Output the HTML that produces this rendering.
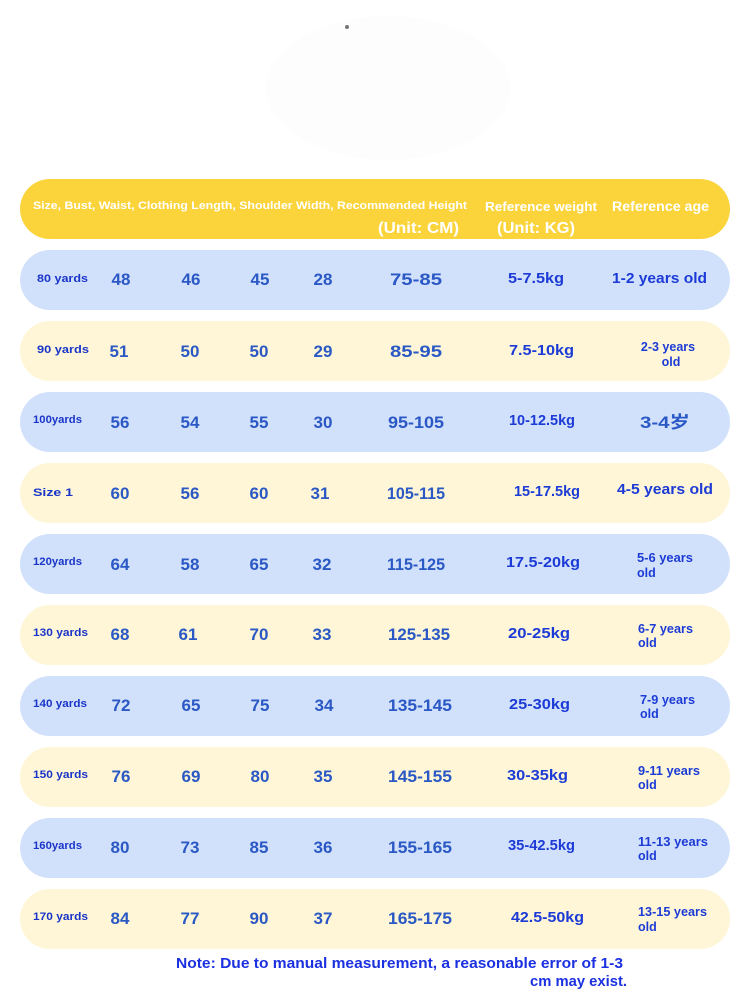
<!DOCTYPE html>
<html>
<head>
<meta charset="utf-8">
<style>
html,body{margin:0;padding:0;background:#fff;}
svg{display:block;}
text{font-family:"Liberation Sans","Noto Sans CJK SC",sans-serif;font-weight:bold;}
.lab{fill:#1a35c9;font-size:11px;}
.num{fill:#2a58c4;font-size:17px;}
.kg{fill:#1c3bd6;font-size:15px;}
.age{fill:#1c3bd6;font-size:15px;}
.age2{fill:#1c3bd6;font-size:12.5px;}
.hd{fill:#fff;}
</style>
</head>
<body>
<svg width="750" height="1000" viewBox="0 0 750 1000" xmlns="http://www.w3.org/2000/svg">
<rect width="750" height="1000" fill="#ffffff"/>
<ellipse cx="388" cy="88" rx="122" ry="72" fill="#fdfdfd"/>
<circle cx="347" cy="27" r="2" fill="#777"/>

<!-- header -->
<rect x="20" y="179" width="710" height="60" rx="30" fill="#fbd43c"/>
<text class="hd" x="33" y="209" font-size="11" textLength="434" lengthAdjust="spacingAndGlyphs">Size, Bust, Waist, Clothing Length, Shoulder Width, Recommended Height</text>
<text class="hd" x="485" y="211" font-size="13" textLength="112" lengthAdjust="spacingAndGlyphs">Reference weight</text>
<text class="hd" x="612" y="211" font-size="14" textLength="97" lengthAdjust="spacingAndGlyphs">Reference age</text>
<text class="hd" x="378" y="233" font-size="16" textLength="81" lengthAdjust="spacingAndGlyphs">(Unit: CM)</text>
<text class="hd" x="497" y="233" font-size="16" textLength="78" lengthAdjust="spacingAndGlyphs">(Unit: KG)</text>

<!-- rows -->
<rect x="20" y="250" width="710" height="60" rx="30" fill="#d2e1fb"/>
<rect x="20" y="321" width="710" height="60" rx="30" fill="#fef6d6"/>
<rect x="20" y="392" width="710" height="60" rx="30" fill="#d2e1fb"/>
<rect x="20" y="463" width="710" height="60" rx="30" fill="#fef6d6"/>
<rect x="20" y="534" width="710" height="60" rx="30" fill="#d2e1fb"/>
<rect x="20" y="605" width="710" height="60" rx="30" fill="#fef6d6"/>
<rect x="20" y="676" width="710" height="60" rx="30" fill="#d2e1fb"/>
<rect x="20" y="747" width="710" height="60" rx="30" fill="#fef6d6"/>
<rect x="20" y="818" width="710" height="60" rx="30" fill="#d2e1fb"/>
<rect x="20" y="889" width="710" height="60" rx="30" fill="#fef6d6"/>

<!-- labels -->
<text class="lab" x="37" y="282" textLength="51" lengthAdjust="spacingAndGlyphs">80 yards</text>
<text class="lab" x="37" y="353" textLength="52" lengthAdjust="spacingAndGlyphs">90 yards</text>
<text class="lab" x="33" y="423" textLength="49" lengthAdjust="spacingAndGlyphs">100yards</text>
<text class="lab" x="33" y="496" font-size="14" textLength="40" lengthAdjust="spacingAndGlyphs">Size 1</text>
<text class="lab" x="33" y="565" textLength="49" lengthAdjust="spacingAndGlyphs">120yards</text>
<text class="lab" x="33" y="636" textLength="55" lengthAdjust="spacingAndGlyphs">130 yards</text>
<text class="lab" x="33" y="707" textLength="54" lengthAdjust="spacingAndGlyphs">140 yards</text>
<text class="lab" x="33" y="778" textLength="55" lengthAdjust="spacingAndGlyphs">150 yards</text>
<text class="lab" x="33" y="849" textLength="49" lengthAdjust="spacingAndGlyphs">160yards</text>
<text class="lab" x="33" y="920" textLength="55" lengthAdjust="spacingAndGlyphs">170 yards</text>

<!-- numbers -->
<g class="num" text-anchor="middle">
<text x="121" y="285">48</text><text x="191" y="285">46</text><text x="260" y="285">45</text><text x="323" y="285">28</text><text x="416" y="285" textLength="52" lengthAdjust="spacingAndGlyphs">75-85</text>
<text x="119" y="357">51</text><text x="190" y="357">50</text><text x="259" y="357">50</text><text x="323" y="357">29</text><text x="416" y="357" textLength="52" lengthAdjust="spacingAndGlyphs">85-95</text>
<text x="120" y="428">56</text><text x="190" y="428">54</text><text x="259" y="428">55</text><text x="323" y="428">30</text><text x="416" y="428" textLength="56" lengthAdjust="spacingAndGlyphs">95-105</text>
<text x="120" y="499">60</text><text x="190" y="499">56</text><text x="259" y="499">60</text><text x="320" y="499">31</text><text x="416" y="499" textLength="58" lengthAdjust="spacingAndGlyphs">105-115</text>
<text x="120" y="570">64</text><text x="190" y="570">58</text><text x="259" y="570">65</text><text x="322" y="570">32</text><text x="416" y="570" textLength="58" lengthAdjust="spacingAndGlyphs">115-125</text>
<text x="120" y="640">68</text><text x="188" y="640">61</text><text x="259" y="640">70</text><text x="322" y="640">33</text><text x="419" y="640" textLength="62" lengthAdjust="spacingAndGlyphs">125-135</text>
<text x="121" y="711">72</text><text x="191" y="711">65</text><text x="260" y="711">75</text><text x="324" y="711">34</text><text x="420" y="711" textLength="64" lengthAdjust="spacingAndGlyphs">135-145</text>
<text x="121" y="782">76</text><text x="191" y="782">69</text><text x="260" y="782">80</text><text x="323" y="782">35</text><text x="420" y="782" textLength="64" lengthAdjust="spacingAndGlyphs">145-155</text>
<text x="120" y="853">80</text><text x="190" y="853">73</text><text x="259" y="853">85</text><text x="323" y="853">36</text><text x="420" y="853" textLength="64" lengthAdjust="spacingAndGlyphs">155-165</text>
<text x="120" y="924">84</text><text x="190" y="924">77</text><text x="259" y="924">90</text><text x="323" y="924">37</text><text x="420" y="924" textLength="64" lengthAdjust="spacingAndGlyphs">165-175</text>
</g>

<!-- weights -->
<text class="kg" x="508" y="283" textLength="56" lengthAdjust="spacingAndGlyphs">5-7.5kg</text>
<text class="kg" x="509" y="355" textLength="65" lengthAdjust="spacingAndGlyphs">7.5-10kg</text>
<text class="kg" x="509" y="425" font-size="14" textLength="66" lengthAdjust="spacingAndGlyphs">10-12.5kg</text>
<text class="kg" x="514" y="496" font-size="14" textLength="66" lengthAdjust="spacingAndGlyphs">15-17.5kg</text>
<text class="kg" x="506" y="567" textLength="74" lengthAdjust="spacingAndGlyphs">17.5-20kg</text>
<text class="kg" x="508" y="638" textLength="62" lengthAdjust="spacingAndGlyphs">20-25kg</text>
<text class="kg" x="509" y="709" textLength="61" lengthAdjust="spacingAndGlyphs">25-30kg</text>
<text class="kg" x="507" y="780" textLength="61" lengthAdjust="spacingAndGlyphs">30-35kg</text>
<text class="kg" x="508" y="850" font-size="14" textLength="67" lengthAdjust="spacingAndGlyphs">35-42.5kg</text>
<text class="kg" x="511" y="922" font-size="16" textLength="73" lengthAdjust="spacingAndGlyphs">42.5-50kg</text>

<!-- ages -->
<text class="age" x="612" y="283" textLength="95" lengthAdjust="spacingAndGlyphs">1-2 years old</text>
<text class="age2" x="668" y="351" text-anchor="middle">2-3 years</text>
<text class="age2" x="671" y="366" text-anchor="middle">old</text>
<text class="num" x="640" y="428" textLength="50" lengthAdjust="spacingAndGlyphs">3-4岁</text>
<text class="age" x="617" y="494" textLength="96" lengthAdjust="spacingAndGlyphs">4-5 years old</text>
<text class="age2" x="637" y="562" textLength="56" lengthAdjust="spacingAndGlyphs">5-6 years</text>
<text class="age2" x="637" y="577">old</text>
<text class="age2" x="638" y="633" textLength="55" lengthAdjust="spacingAndGlyphs">6-7 years</text>
<text class="age2" x="638" y="647">old</text>
<text class="age2" x="640" y="704" textLength="55" lengthAdjust="spacingAndGlyphs">7-9 years</text>
<text class="age2" x="640" y="718">old</text>
<text class="age2" x="638" y="775" textLength="62" lengthAdjust="spacingAndGlyphs">9-11 years</text>
<text class="age2" x="638" y="789">old</text>
<text class="age2" x="638" y="846" textLength="70" lengthAdjust="spacingAndGlyphs">11-13 years</text>
<text class="age2" x="638" y="860">old</text>
<text class="age2" x="638" y="916" textLength="69" lengthAdjust="spacingAndGlyphs">13-15 years</text>
<text class="age2" x="638" y="931">old</text>

<!-- note -->
<text x="176" y="968" font-size="15" fill="#1b30e0" textLength="447" lengthAdjust="spacingAndGlyphs">Note: Due to manual measurement, a reasonable error of 1-3</text>
<text x="530" y="986" font-size="15" fill="#1b30e0" textLength="97" lengthAdjust="spacingAndGlyphs">cm may exist.</text>
</svg>
</body>
</html>
